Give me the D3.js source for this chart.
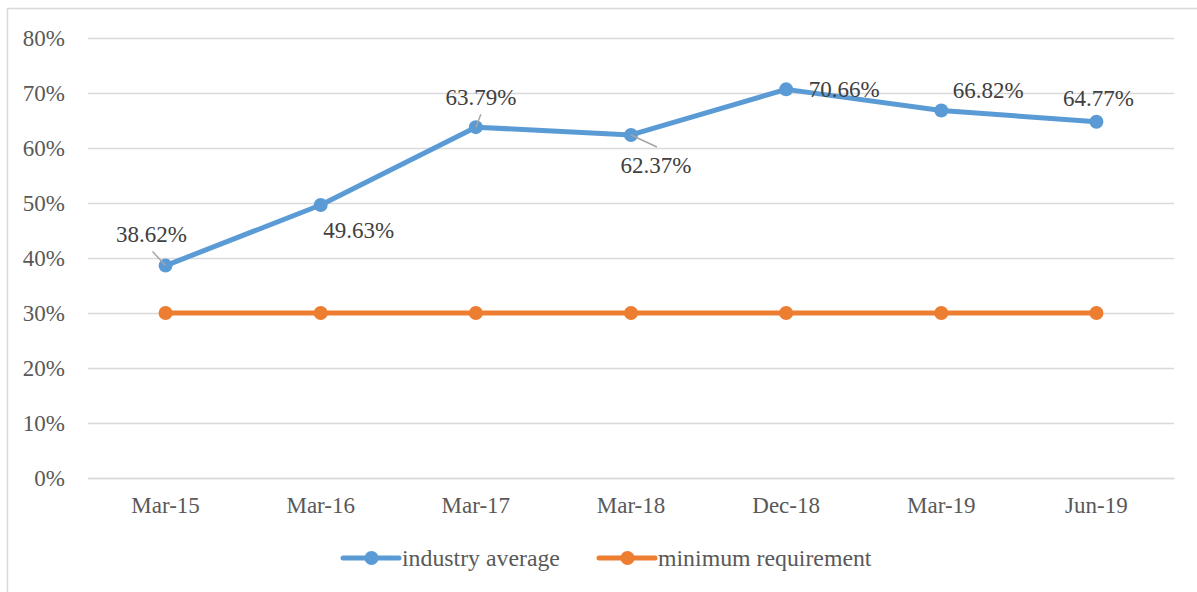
<!DOCTYPE html>
<html>
<head>
<meta charset="utf-8">
<script src="https://cdn.jsdelivr.net/npm/d3@7"></script>
<style>
    body { margin: 0; background: #fff; }
</style>
</head>
<body>
<div id="chart"></div>
<script>
const categories = ["Mar-15", "Mar-16", "Mar-17", "Mar-18", "Dec-18", "Mar-19", "Jun-19"]
const industryAverage = [38.62, 49.63, 63.79, 62.37, 70.66, 66.82, 64.77]
const minimumRequirement = [30, 30, 30, 30, 30, 30, 30]
const yTicks = [0, 10, 20, 30, 40, 50, 60, 70, 80]
const seriesNames = ["industry average", "minimum requirement"]

// label offsets relative to the point (dx, dy) and the leader line end, if any
const labelPlace = [
    { dx: -14, dy: -32, leader: [-13, -14] },
    { dx: 38, dy: 25, leader: null },
    { dx: 5, dy: -30, leader: [5, -13] },
    { dx: 25, dy: 30, leader: [26, 12] },
    { dx: 58, dy: 0, leader: null },
    { dx: 47, dy: -21, leader: null },
    { dx: 2, dy: -24, leader: null },
]

const FONT = "'Liberation Serif', 'Times New Roman', serif"
const FS = "23px"
const W = 1197, H = 592
const margin = { top: 38, left: 88, right: 23, bottom: 114 }
const width = W - margin.left - margin.right
const height = 440

const svg = d3.select("#chart").append("svg")
    .attr("width", W)
    .attr("height", H)
    .style("font-family", FONT)

// outer border
svg.append("rect")
    .attr("x", 7.5).attr("y", 8.5)
    .attr("width", W + 10).attr("height", H + 10)
    .attr("fill", "none")
    .attr("stroke", "#d9d9d9")
    .attr("stroke-width", 1.5)

const chart = svg.append("g")
    .attr("transform", `translate(${margin.left},${margin.top})`)

const yScale = d3.scaleLinear()
    .domain([0, 80])
    .range([height, 0])

const xScale = d3.scaleBand()
    .domain(categories)
    .range([0, width])

//Draw grid
chart.append("g")
    .attr("class", "grid")
    .call(d3.axisLeft(yScale).tickValues(yTicks).tickSize(-width).tickFormat(""))
    .call(g => g.select(".domain").remove())
    .selectAll("line")
    .attr("stroke", "#d9d9d9")
    .attr("stroke-width", 1.5)
//End Draw grid

// y tick labels
chart.append("g")
    .selectAll("text")
    .data(yTicks)
    .enter()
    .append("text")
        .attr("x", -23)
        .attr("y", d => yScale(d))
        .attr("dy", "0.35em")
        .attr("text-anchor", "end")
        .attr("fill", "#595959")
        .style("font-size", FS)
        .style("font-family", FONT)
        .text(d => d + "%")

// x axis
const xAxis = chart.append("g")
    .attr("transform", `translate(0,${height})`)
    .call(d3.axisBottom(xScale).tickSize(0).tickPadding(19))
xAxis.select(".domain").attr("stroke", "#d9d9d9").attr("stroke-width", 1.5)
xAxis.selectAll("text")
    .attr("fill", "#595959")
    .style("font-size", FS)
    .style("font-family", FONT)

const cx = (d, i) => xScale(categories[i]) + xScale.bandwidth() / 2

const line = d3.line()
    .x((d, i) => cx(d, i))
    .y(d => yScale(d))

const series = [
    { name: seriesNames[0], values: industryAverage, color: "#5b9bd5" },
    { name: seriesNames[1], values: minimumRequirement, color: "#ed7d31" },
]

series.slice().reverse().forEach(s => {
    chart.append("path")
        .datum(s.values)
        .attr("d", line)
        .attr("fill", "none")
        .attr("stroke", s.color)
        .attr("stroke-width", 5)
        .attr("stroke-linejoin", "round")
    chart.selectAll(null)
        .data(s.values)
        .enter()
        .append("circle")
            .attr("cx", cx)
            .attr("cy", d => yScale(d))
            .attr("r", 7)
            .attr("fill", s.color)
})

// data labels
const labels = chart.append("g")
industryAverage.forEach((v, i) => {
    const px = cx(v, i), py = yScale(v)
    const p = labelPlace[i]
    if (p.leader) {
        labels.append("line")
            .attr("x1", px).attr("y1", py)
            .attr("x2", px + p.leader[0])
            .attr("y2", py + p.leader[1])
            .attr("stroke", "#a6a6a6")
            .attr("stroke-width", 1.5)
    }
    labels.append("text")
        .attr("x", px + p.dx)
        .attr("y", py + p.dy)
        .attr("dy", "0.35em")
        .attr("text-anchor", "middle")
        .attr("fill", "#404040")
        .style("font-size", FS)
        .style("font-family", FONT)
        .text(v.toFixed(2) + "%")
})

// legend
const legendX = [343, 599]
const legend = svg.append("g")
series.forEach((s, i) => {
    const g = legend.append("g").attr("transform", `translate(${legendX[i]},558)`)
    g.append("line")
        .attr("x1", 0).attr("x2", 56)
        .attr("stroke", s.color)
        .attr("stroke-width", 5)
        .attr("stroke-linecap", "round")
    g.append("circle")
        .attr("cx", 28.5).attr("r", 7)
        .attr("fill", s.color)
    g.append("text")
        .attr("x", 59)
        .attr("dy", "0.35em")
        .attr("fill", "#595959")
        .style("font-size", "23.8px")
        .style("font-family", FONT)
        .text(s.name)
})
</script>
</body>
</html>
